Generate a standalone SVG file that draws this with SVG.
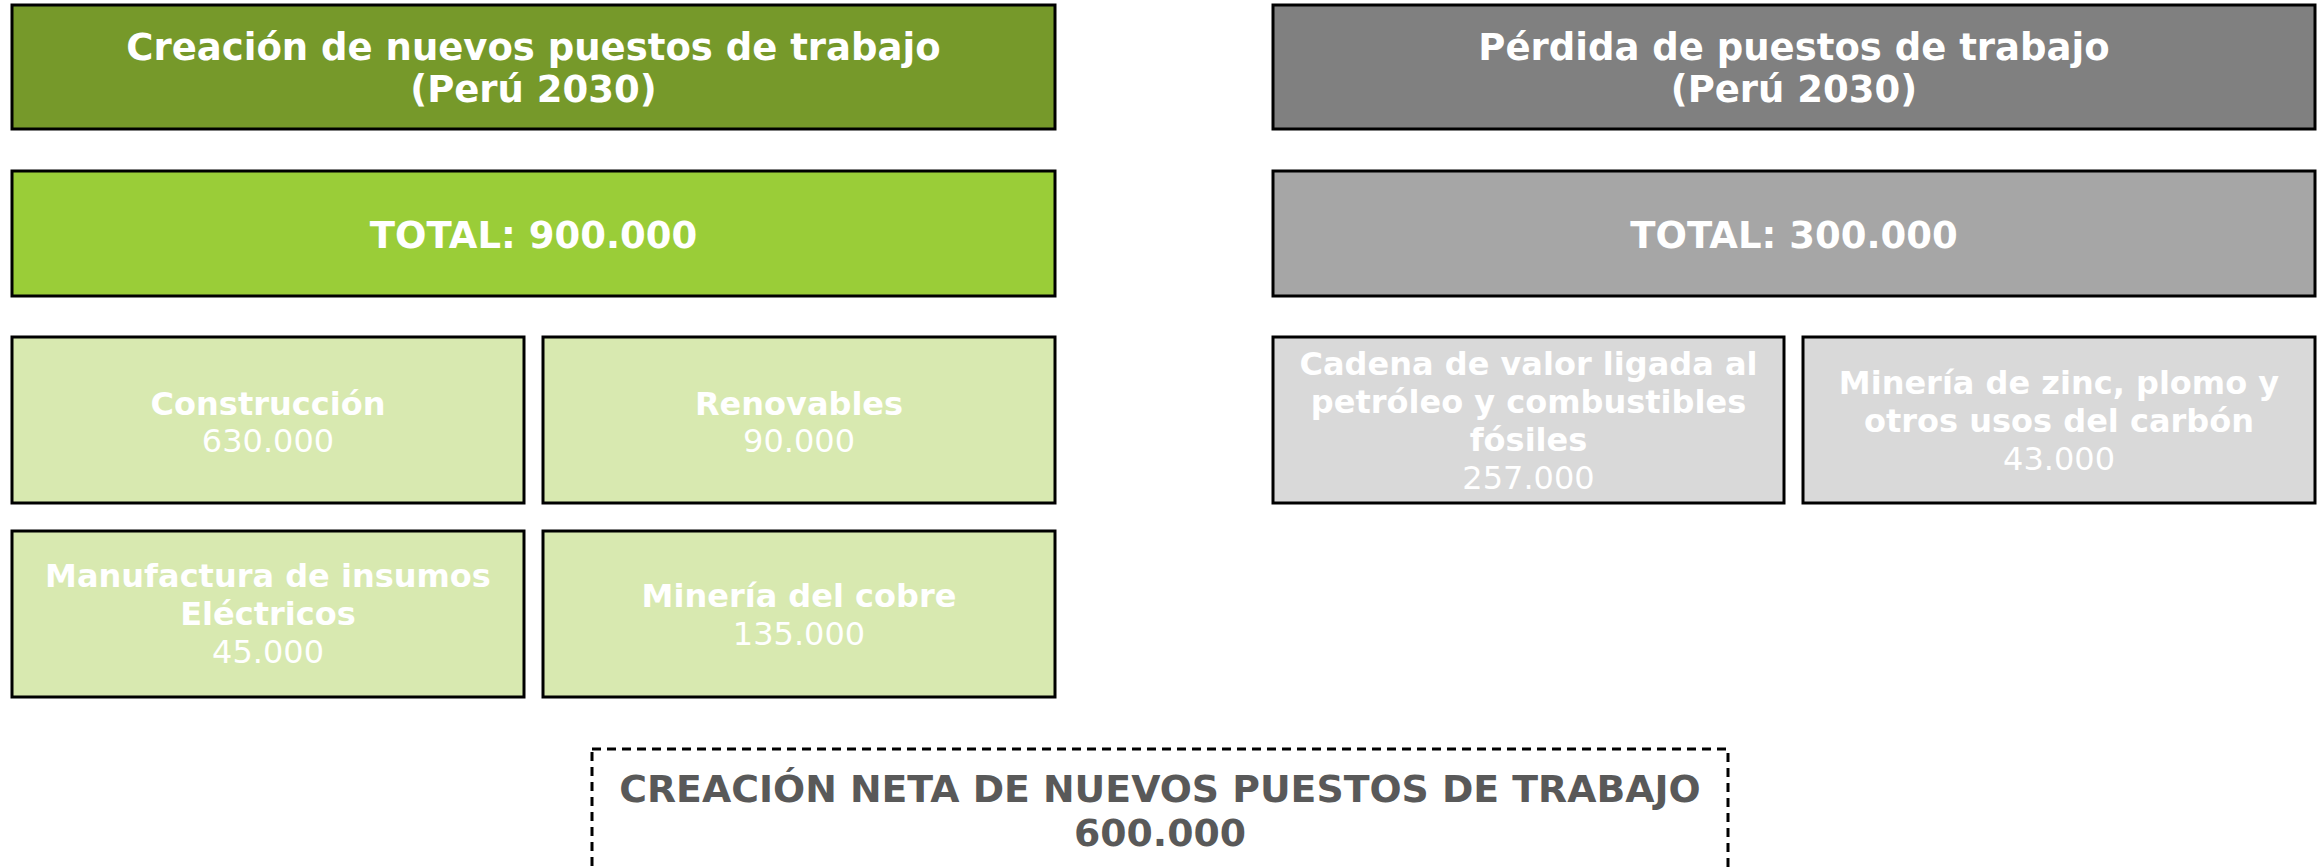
<svg xmlns="http://www.w3.org/2000/svg" width="2321" height="867" viewBox="0 0 2321 867">
<style>
.box{stroke:#000;stroke-width:3}
.g1{fill:#76992A}.g2{fill:#9ACD38}.g3{fill:#D8E9B0}
.r1{fill:#808080}.r2{fill:#A6A6A6}.r3{fill:#D9D9D9}
text{font-family:"DejaVu Sans","Verdana",sans-serif;text-anchor:middle;fill:#fff}
.h{font-size:37px;font-weight:bold}
.l{font-size:32px;font-weight:bold}
.n{font-size:32px;font-weight:normal}
.net{font-size:37.8px;font-weight:bold;fill:#595959}
.dash{fill:none;stroke:#000;stroke-width:3;stroke-dasharray:9 6}
</style>
<rect width="2321" height="867" fill="#fff"/>
<g id="header-creacion">
<rect class="box g1" x="12" y="5" width="1043" height="124"/>
<text class="h" x="533.5" y="60">Creación de nuevos puestos de trabajo</text>
<text class="h" x="533.5" y="102">(Perú 2030)</text>
</g>
<g id="total-creacion">
<rect class="box g2" x="12" y="171" width="1043" height="125"/>
<text class="h" x="533.5" y="248">TOTAL: 900.000</text>
</g>
<g id="construccion">
<rect class="box g3" x="12" y="337" width="512" height="166"/>
<text class="l" x="268" y="415">Construcción</text>
<text class="n" x="268" y="452">630.000</text>
</g>
<g id="renovables">
<rect class="box g3" x="543" y="337" width="512" height="166"/>
<text class="l" x="799" y="415">Renovables</text>
<text class="n" x="799" y="452">90.000</text>
</g>
<g id="manufactura">
<rect class="box g3" x="12" y="531" width="512" height="166"/>
<text class="l" x="268" y="587">Manufactura de insumos</text>
<text class="l" x="268" y="625">Eléctricos</text>
<text class="n" x="268" y="663">45.000</text>
</g>
<g id="mineria-cobre">
<rect class="box g3" x="543" y="531" width="512" height="166"/>
<text class="l" x="799" y="607">Minería del cobre</text>
<text class="n" x="799" y="645">135.000</text>
</g>
<g id="header-perdida">
<rect class="box r1" x="1273" y="5" width="1042" height="124"/>
<text class="h" x="1794" y="60">Pérdida de puestos de trabajo</text>
<text class="h" x="1794" y="102">(Perú 2030)</text>
</g>
<g id="total-perdida">
<rect class="box r2" x="1273" y="171" width="1042" height="125"/>
<text class="h" x="1794" y="248">TOTAL: 300.000</text>
</g>
<g id="petroleo">
<rect class="box r3" x="1273" y="337" width="511" height="166"/>
<text class="l" x="1528.5" y="375">Cadena de valor ligada al</text>
<text class="l" x="1528.5" y="413">petróleo y combustibles</text>
<text class="l" x="1528.5" y="451">fósiles</text>
<text class="n" x="1528.5" y="489">257.000</text>
</g>
<g id="mineria-zinc">
<rect class="box r3" x="1803" y="337" width="512" height="166"/>
<text class="l" x="2059" y="394">Minería de zinc, plomo y</text>
<text class="l" x="2059" y="432">otros usos del carbón</text>
<text class="n" x="2059" y="470">43.000</text>
</g>
<g id="creacion-neta">
<rect class="dash" x="592" y="749" width="1136" height="160"/>
<text class="net" x="1160" y="802">CREACIÓN NETA DE NUEVOS PUESTOS DE TRABAJO</text>
<text class="net" x="1160" y="846">600.000</text>
</g>
<g id="connectors"></g>
</svg>
